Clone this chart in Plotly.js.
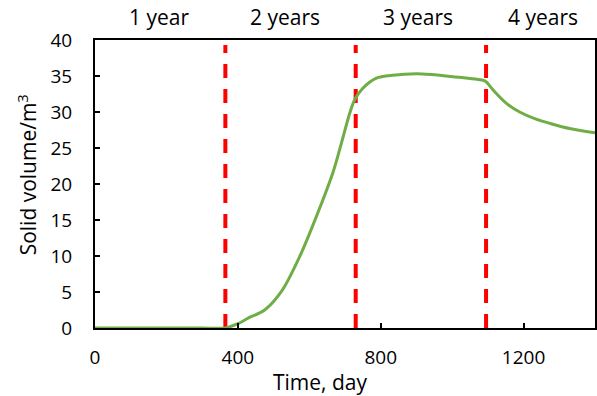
<!DOCTYPE html>
<html>
<head>
<meta charset="utf-8">
<script src="https://cdn.plot.ly/plotly-3.0.1.min.js"></script>
<style>html,body{margin:0;padding:0;background:#fff;}#chart{width:597px;height:396px;}</style>
</head>
<body>
<div id="chart"></div>
<script>
// Data
const days = [0, 100, 200, 300, 365, 400, 430, 475, 525, 573, 620, 667, 695, 713, 727, 750, 788, 834, 900, 940, 1002, 1086, 1095, 1114, 1152, 1189, 1235, 1282, 1329, 1400];
const solidVolume = [0, 0, 0, 0, 0, 0.6, 1.4, 2.5, 5.3, 9.9, 15.5, 21.7, 26.6, 29.8, 31.7, 33.3, 34.7, 35.1, 35.3, 35.2, 34.9, 34.4, 34.2, 33.1, 31.2, 30.0, 29.0, 28.3, 27.7, 27.1];
const yearBoundaries = [365, 730, 1095];
const yearLabels = ["1 year", "2 years", "3 years", "4 years"];
const yearLabelX = [179, 531, 903, 1253];
const xTicks = [0, 400, 800, 1200];
const yTicks = [0, 5, 10, 15, 20, 25, 30, 35, 40];

const FONT = "Open Sans, sans-serif";
const TICK_SIZE = 19;
const TEXT_SIZE = 21;

const traces = [];
yearBoundaries.forEach(d => {
  traces.push({
    x: [d, d], y: [0, 39.3], mode: "lines", hoverinfo: "skip", showlegend: false,
    line: {color: "#FF0000", width: 4, dash: "14px,11px"}
  });
});
traces.push({
  x: days, y: solidVolume, mode: "lines", showlegend: false,
  line: {color: "#70AD47", width: 3, shape: "spline", smoothing: 0.8}
});

const annotations = yearLabels.map((t, i) => ({
  text: t, x: yearLabelX[i], xref: "x", y: 1.08, yref: "paper",
  xanchor: "center", yanchor: "middle", showarrow: false,
  font: {family: FONT, size: TEXT_SIZE, color: "#000"}
}));
annotations.push({
  text: "Time, day", x: 632, xref: "x", y: -0.186, yref: "paper",
  xanchor: "center", yanchor: "middle", showarrow: false,
  font: {family: FONT, size: TEXT_SIZE, color: "#000"}
});
annotations.push({
  text: "Solid volume/m<sup>3</sup>", x: -0.136, xref: "paper", y: 0.53, yref: "paper",
  xanchor: "center", yanchor: "middle", textangle: -90, showarrow: false,
  font: {family: FONT, size: TEXT_SIZE, color: "#000"}
});

const layout = {
  width: 597, height: 396,
  margin: {l: 95, r: 2, t: 40, b: 68, pad: 0},
  paper_bgcolor: "#fff", plot_bgcolor: "#fff",
  showlegend: false,
  font: {family: FONT, size: TICK_SIZE, color: "#000"},
  xaxis: {
    range: [0, 1400], tickvals: xTicks, ticktext: xTicks.map(String),
    showgrid: false, zeroline: false,
    showline: true, linecolor: "#000", linewidth: 2, mirror: true,
    ticks: "inside", ticklen: 5, tickwidth: 2, tickcolor: "#000",
    ticklabelstandoff: 11,
    tickfont: {family: FONT, size: TICK_SIZE, color: "#000"}
  },
  yaxis: {
    range: [0, 40], tickvals: yTicks, ticktext: yTicks.map(String),
    showgrid: false, zeroline: false,
    showline: true, linecolor: "#000", linewidth: 2, mirror: true,
    ticks: "inside", ticklen: 5, tickwidth: 2, tickcolor: "#000",
    ticklabelstandoff: 17,
    tickfont: {family: FONT, size: TICK_SIZE, color: "#000"}
  },
  annotations: annotations
};

Plotly.newPlot("chart", traces, layout, {staticPlot: true, displayModeBar: false});
</script>
</body>
</html>
